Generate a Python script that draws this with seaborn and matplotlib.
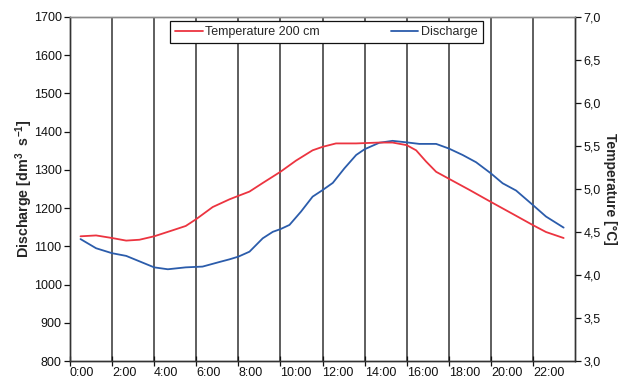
import matplotlib
matplotlib.use("Agg")
import matplotlib.pyplot as plt
import matplotlib.transforms as mtransforms
import seaborn as sns
import pandas as pd

# ---- data ----
hours_q = [0.5, 1.24, 2.0, 2.67, 4.0, 4.65, 5.5, 6.3, 7.1, 7.58, 8.0, 8.53, 9.16,
           9.64, 10.0, 10.43, 10.98, 11.53, 12.0, 12.49, 13.04, 13.6, 14.0, 14.7,
           15.33, 16.0, 16.6, 17.4, 18.0, 18.66, 19.3, 20.0, 20.56, 21.2, 22.0,
           22.62, 23.46]
discharge = [1119, 1095, 1082, 1075, 1045, 1040, 1045, 1047, 1059, 1066, 1073, 1086,
             1121, 1138, 1145, 1156, 1191, 1230, 1247, 1266, 1304, 1339, 1354, 1371,
             1376, 1372, 1368, 1368, 1356, 1339, 1320, 1291, 1265, 1246, 1208, 1178,
             1149]
hours_t = [0.5, 1.24, 2.0, 2.67, 3.3, 4.0, 4.88, 5.5, 6.0, 6.78, 7.58, 8.0, 8.53,
           9.16, 10.0, 10.74, 11.53, 12.0, 12.64, 13.6, 14.7, 15.33, 16.0, 16.45,
           16.92, 17.4, 18.0, 18.98, 20.0, 21.04, 22.0, 22.62, 23.46]
temperature = [4.45, 4.46, 4.43, 4.40, 4.41, 4.45, 4.52, 4.57, 4.65, 4.79, 4.88, 4.92,
               4.97, 5.07, 5.20, 5.33, 5.45, 5.49, 5.53, 5.53, 5.54, 5.54, 5.51, 5.45,
               5.32, 5.20, 5.12, 4.99, 4.85, 4.71, 4.58, 4.50, 4.43]
x_ticks = list(range(0, 24, 2))
x_labels = [f"{h}:00" for h in x_ticks]
left_ticks = list(range(800, 1701, 100))
right_ticks = [3.0, 3.5, 4.0, 4.5, 5.0, 5.5, 6.0, 6.5, 7.0]

df_q = pd.DataFrame({"hour": hours_q, "Discharge": discharge})
df_t = pd.DataFrame({"hour": hours_t, "Temperature": temperature})

sns.set_style("ticks")
plt.rcParams["font.family"] = ["Liberation Sans", "DejaVu Sans"]
plt.rcParams["mathtext.fontset"] = "custom"
plt.rcParams["mathtext.rm"] = "Liberation Sans:bold"
plt.rcParams["mathtext.bf"] = "Liberation Sans:bold"
plt.rcParams["font.size"] = 9

RED = "#ec3440"
BLUE = "#2b5cab"
DARK = "#333333"

fig = plt.figure(figsize=(6.34, 3.78), dpi=100)
ax = fig.add_axes([70 / 634, 17 / 378, 505 / 634, 344 / 378])
ax2 = ax.twinx()

sns.lineplot(data=df_q, x="hour", y="Discharge", ax=ax, color=BLUE, lw=1.3,
             label="Discharge", legend=False)
sns.lineplot(data=df_t, x="hour", y="Temperature", ax=ax2, color=RED, lw=1.3,
             label="Temperature 200 cm", legend=False)
ax2.set_zorder(ax.get_zorder() + 1)
ax2.patch.set_visible(False)

ax.set_xlim(0, 24)
ax.set_ylim(800, 1700)
ax2.set_ylim(3.0, 7.0)
ax.set_xticks(x_ticks)
ax.set_xticklabels(x_labels, ha="left")
offset = mtransforms.ScaledTranslation(-2 / 100, 0, fig.dpi_scale_trans)
for lab in ax.get_xticklabels():
    lab.set_transform(lab.get_transform() + offset)
ax.set_yticks(left_ticks)
ax2.set_yticks(right_ticks)
ax2.set_yticklabels([f"{v:.1f}".replace(".", ",") for v in right_ticks])

ax.grid(axis="x", color=DARK, lw=1.1)
ax.grid(axis="y", visible=False)
ax.set_xlabel("")
ax.set_ylabel(r"Discharge [dm$^{3}$  s$^{-1}$]", fontweight="bold", fontsize=10.3,
              labelpad=-1)
ax2.set_ylabel("Temperature [°C]", fontweight="bold", fontsize=10, rotation=-90,
               labelpad=12)

for a in (ax, ax2):
    for s in a.spines.values():
        s.set_color(DARK)
        s.set_linewidth(1.0)
    a.spines["top"].set_color("#8a8a8a")
    a.tick_params(colors="#111111", length=4, width=0.9, labelsize=9, pad=2)
ax.tick_params(axis="x", direction="inout", length=7, pad=1)

h1, l1 = ax2.get_legend_handles_labels()
h2, l2 = ax.get_legend_handles_labels()
leg = ax2.legend(h1 + h2, l1 + l2, ncol=2, loc="upper left",
                 bbox_to_anchor=(100 / 505, 1 - 4 / 344), borderaxespad=0,
                 frameon=True, fancybox=False, edgecolor="#111111", framealpha=1,
                 fontsize=9, handlelength=2.2, handletextpad=0.2,
                 columnspacing=5.7, borderpad=0.4)
leg.get_frame().set_linewidth(0.9)

fig.savefig("out.png", dpi=100)
